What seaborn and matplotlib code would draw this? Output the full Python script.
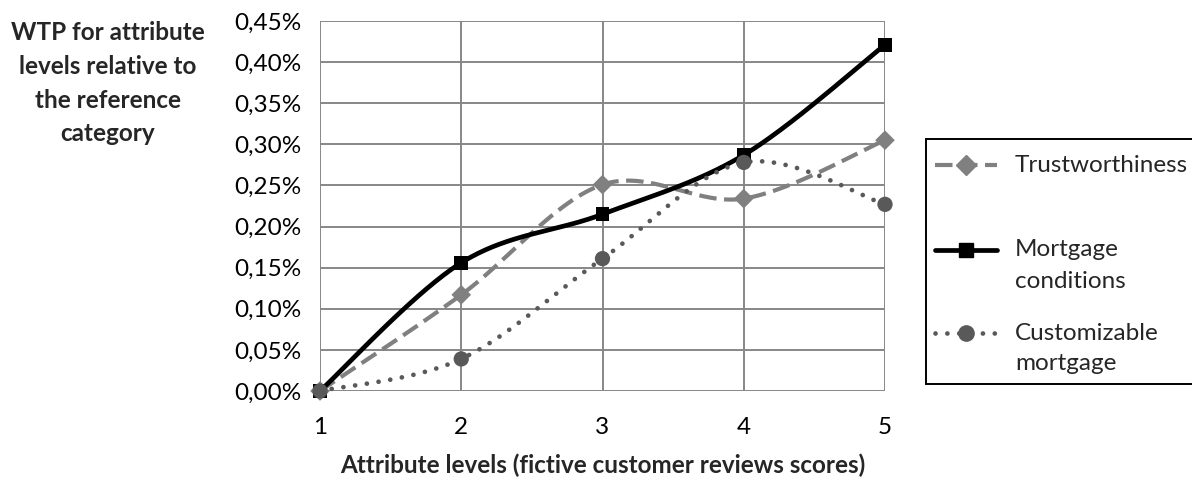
import numpy as np
import pandas as pd
import matplotlib
matplotlib.use("Agg")
import matplotlib.pyplot as plt
from matplotlib.lines import Line2D
from matplotlib.patches import Rectangle
from matplotlib.ticker import FuncFormatter
import seaborn as sns

levels = [1, 2, 3, 4, 5]
trustworthiness = [0.000, 0.117, 0.251, 0.234, 0.305]
mortgage_conditions = [0.000, 0.156, 0.215, 0.287, 0.421]
customizable_mortgage = [0.000, 0.039, 0.161, 0.278, 0.227]
y_ticks = [0.00, 0.05, 0.10, 0.15, 0.20, 0.25, 0.30, 0.35, 0.40, 0.45]
legend_labels = [("Trustworthiness",), ("Mortgage", "conditions"),
                 ("Customizable", "mortgage")]

sns.set_style("white")
plt.rcParams["font.family"] = ["Lato", "DejaVu Sans"]
FS = 17.5
W, H = 1192, 479


def smooth_curve(xs, ys, n=60):
    """Cubic Bezier spline through the points (Catmull-Rom style tangents)."""
    pts = np.column_stack([xs, ys]).astype(float)
    padded = np.vstack([pts[0], pts, pts[-1]])
    t = np.linspace(0, 1, n)[:, None]
    parts = []
    for i in range(len(pts) - 1):
        p0, p1, p2, p3 = padded[i], padded[i + 1], padded[i + 2], padded[i + 3]
        c1 = p1 + (p2 - p0) / 6.0
        c2 = p2 - (p3 - p1) / 6.0
        seg = ((1 - t) ** 3) * p1 + 3 * ((1 - t) ** 2) * t * c1 \
            + 3 * (1 - t) * t ** 2 * c2 + t ** 3 * p2
        parts.append(seg if i == 0 else seg[1:])
    return np.vstack(parts)


styles = [
    (trustworthiness,
     dict(color="#808080", lw=3.0, ls=(0, (4.2, 1.8)), cap="butt"),
     dict(marker="D", ms=10.0, color="#808080")),
    (mortgage_conditions,
     dict(color="#000000", lw=3.4, ls="-", cap="butt"),
     dict(marker="s", ms=10.0, color="#000000")),
    (customizable_mortgage,
     dict(color="#595959", lw=3.4, ls=(0, (0.01, 2.5)), cap="round"),
     dict(marker="o", ms=11.0, color="#595959")),
]

fig = plt.figure(figsize=(W / 100, H / 100), dpi=100)
ax = fig.add_axes([320 / W, 1 - 391 / H, (885 - 320) / W, (391 - 21) / H])

for values, line_kw, mark_kw in styles:
    curve = smooth_curve(levels, values)
    df_curve = pd.DataFrame({"x": curve[:, 0], "y": curve[:, 1]})
    sns.lineplot(data=df_curve, x="x", y="y", sort=False, estimator=None,
                 ax=ax, color=line_kw["color"], linewidth=line_kw["lw"],
                 zorder=3)
    ln = ax.lines[-1]
    ln.set_linestyle(line_kw["ls"])
    ln.set_dash_capstyle(line_kw["cap"])
    ln.set_clip_on(False)
    df_pts = pd.DataFrame({"x": levels, "y": values})
    sns.scatterplot(data=df_pts, x="x", y="y", ax=ax, marker=mark_kw["marker"],
                    s=mark_kw["ms"] ** 2, color=mark_kw["color"],
                    edgecolor="none", zorder=4, clip_on=False)

ax.set_xlim(1, 5)
ax.set_ylim(0, 0.45)
ax.set_xticks(levels)
ax.set_yticks(y_ticks)
ax.yaxis.set_major_formatter(
    FuncFormatter(lambda v, _: f"{v:.2f}%".replace(".", ",")))
for s in ax.spines.values():
    s.set_visible(False)
ax.grid(True, color="#878787", linewidth=1.4)
ax.set_axisbelow(True)
ax.tick_params(axis="both", which="major", direction="out", length=7,
               width=1.4, color="#878787", labelsize=FS, labelcolor="black")
ax.tick_params(axis="x", pad=12)
ax.tick_params(axis="y", pad=6)
ax.set_xlabel("Attribute levels (fictive customer reviews scores)",
              fontsize=FS, fontweight="bold", labelpad=11)
ax.set_ylabel("")

# Title of the value axis, placed to the left of the plot
for i, line in enumerate(["WTP for attribute", "levels relative to",
                          "the reference", "category"]):
    fig.text(108 / W, 1 - (33 + 33.5 * i) / H, line, ha="center",
             va="center", fontsize=FS, fontweight="bold")

# Legend box drawn in figure pixels
fig.add_artist(Rectangle((926 / W, 1 - 384 / H), (1200 - 926) / W,
                         (384 - 139) / H, transform=fig.transFigure,
                         facecolor="white", edgecolor="black", linewidth=1.4,
                         clip_on=False))
row_y = [165, 250, 333]
for (values, line_kw, mark_kw), labels, y0 in zip(styles, legend_labels, row_y):
    yf = 1 - y0 / H
    fig.add_artist(Line2D([935 / W, 997 / W], [yf, yf],
                          transform=fig.transFigure, color=line_kw["color"],
                          lw=line_kw["lw"], ls=line_kw["ls"],
                          dash_capstyle=line_kw["cap"]))
    fig.add_artist(Line2D([966 / W], [yf], transform=fig.transFigure,
                          marker=mark_kw["marker"], ms=mark_kw["ms"],
                          color=mark_kw["color"], ls="none"))
    for k, text in enumerate(labels):
        fig.text(1015 / W, 1 - (y0 + 31 * k) / H, text, ha="left",
                 va="center", fontsize=FS)

fig.savefig("out.png", dpi=100)
